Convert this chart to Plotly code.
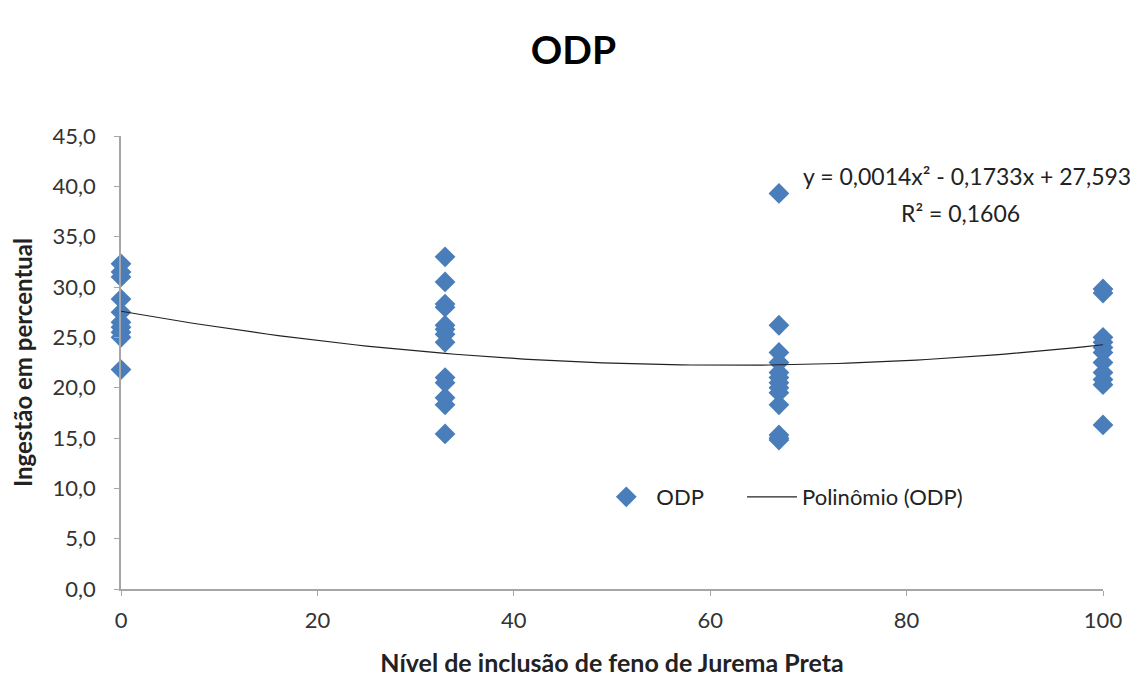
import numpy as np
import plotly.graph_objects as go

# Data
x0 = [0] * 10
y0 = [32.3, 31.5, 31.0, 28.8, 27.5, 26.5, 26.0, 25.5, 25.0, 21.8]
x33 = [33] * 13
y33 = [33.0, 30.5, 28.3, 28.0, 26.2, 25.8, 25.3, 24.5, 21.0, 20.5, 19.0, 18.3, 15.4]
x67 = [67] * 13
y67 = [39.3, 26.2, 23.5, 22.5, 21.5, 21.0, 20.5, 20.0, 19.5, 18.3, 15.3, 15.0, 14.8]
x100 = [100] * 11
y100 = [29.8, 29.4, 25.0, 24.5, 24.0, 23.5, 22.5, 21.5, 20.8, 20.3, 16.3]

xs = x0 + x33 + x67 + x100
ys = y0 + y33 + y67 + y100

# Trend-line coefficients shown in the chart (a*x^2 + b*x + c)
coef = [0.0014, -0.1733, 27.593]
x_ticks = [0, 20, 40, 60, 80, 100]
y_ticks = [0, 5, 10, 15, 20, 25, 30, 35, 40, 45]

xt = np.linspace(0, 100, 101)
yt = np.polyval(coef, xt)

FONT = "Lato"
NB = "\u00a0"
fig = go.Figure()
fig.add_trace(go.Scatter(
    x=xs, y=ys, mode="markers", name="ODP" + NB * 6,
    marker=dict(symbol="diamond", size=16, color="#4A7EBB",
                line=dict(width=0)),
    cliponaxis=False,
))
fig.add_trace(go.Scatter(
    x=xt, y=yt, mode="lines", name="Polinômio (ODP)",
    line=dict(color="#222222", width=1.2),
))

fig.update_layout(
    width=1147, height=677,
    paper_bgcolor="white", plot_bgcolor="white",
    separators=",.",
    margin=dict(l=113, r=52, t=128, b=96),
    font=dict(family=FONT, color="#333333", size=22),
    title=dict(text="<b>ODP</b>", x=0.493, xanchor="center", y=0.937, yanchor="middle",
               font=dict(family=FONT, size=39, color="black")),
    showlegend=True,
    legend=dict(orientation="h", x=0.484, xanchor="left", y=0.203, yanchor="middle",
                bgcolor="rgba(0,0,0,0)", font=dict(size=22, color="#222222"),
                itemwidth=50, tracegroupgap=30),
    xaxis=dict(range=[0, 100], tickvals=x_ticks, showgrid=False, zeroline=False,
               automargin=False,
               showline=True, linecolor="#A6A6A6", linewidth=1.5,
               ticks="outside", ticklen=5, tickcolor="#A6A6A6",
               ticklabelstandoff=6,
               tickfont=dict(size=22, color="#333333"),
               title=dict(text="<b>Nível de inclusão de feno de Jurema Preta</b>",
                          font=dict(size=25, color="#222222"), standoff=22)),
    yaxis=dict(range=[0, 45], tickvals=y_ticks, tickformat=".1f", showgrid=False,
               automargin=False,
               zeroline=False, showline=True, linecolor="#A6A6A6", linewidth=1.5,
               ticks="outside", ticklen=5, tickcolor="#A6A6A6",
               ticklabelstandoff=14,
               tickfont=dict(size=22, color="#333333"),
               title=dict(text="<b>Ingestão em percentual</b>",
                          font=dict(size=24, color="#222222"), standoff=16)),
)

fig.add_annotation(
    text="y = 0,0014x² - 0,1733x + 27,593",
    xref="paper", yref="paper", x=0.862, y=0.912, xanchor="center", yanchor="middle",
    showarrow=False, font=dict(size=23, color="#222222"),
)
fig.add_annotation(
    text="R² = 0,1606",
    xref="paper", yref="paper", x=0.855, y=0.830, xanchor="center", yanchor="middle",
    showarrow=False, font=dict(size=23, color="#222222"),
)

fig.write_html("out.html")
